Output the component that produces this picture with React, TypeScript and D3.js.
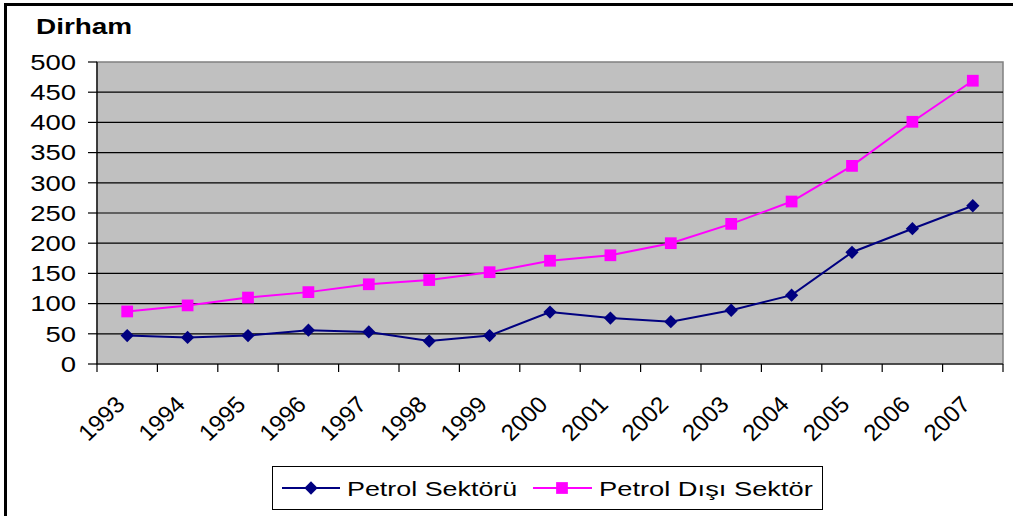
import * as d3 from "d3";

const years = ["1993", "1994", "1995", "1996", "1997", "1998", "1999", "2000", "2001", "2002", "2003", "2004", "2005", "2006", "2007"];
const petrolSektoru = [47, 44, 47, 56, 53, 38, 47, 86, 76, 70, 89, 114, 185, 224, 262];
const petrolDisiSektor = [87, 97, 110, 119, 132, 139, 152, 171, 180, 200, 232, 269, 328, 401, 469];
const yTicks = [0, 50, 100, 150, 200, 250, 300, 350, 400, 450, 500];
const seriesNames = ["Petrol Sektörü", "Petrol Dışı Sektör"];

const W = 1013;
const H = 516;
const left = 97;
const right = 1003;
const top = 62;
const bottom = 364;
const font = "Arial, 'Liberation Sans', sans-serif";
const sx = 1.25; // the picture is stretched sideways

const App = () => {
  const x = d3.scaleBand<string>().domain(years).range([left, right]);
  const y = d3.scaleLinear().domain([0, 500]).range([bottom, top]);
  const cx = (d: string) => (x(d) ?? 0) + x.bandwidth() / 2;

  const line = d3
    .line<number>()
    .x((_, i) => cx(years[i]))
    .y((d) => y(d));

  const diamond = d3.symbol(d3.symbolSquare, 88)()!;
  const square = d3.symbol(d3.symbolSquare, 138)()!;

  const boundaries = years.map((d) => x(d) ?? 0).concat([right]);

  return (
    <svg width={W} height={H} style={{ position: "absolute", left: 0, top: 0, background: "#fff" }}>
      {/* outer frame */}
      <rect x={5.5} y={4.5} width={W + 20} height={H + 20} fill="none" stroke="#000" strokeWidth={3} />

      {/* title */}
      <text transform={`translate(36,33.5) scale(1.27,1)`} fontFamily={font} fontWeight="bold" fontSize={22} fill="#000">
        Dirham
      </text>

      {/* plot area */}
      <rect x={left} y={top} width={right - left} height={bottom - top} fill="#c0c0c0" stroke="#808080" strokeWidth={1.5} />

      {/* grid lines */}
      {yTicks.slice(1, -1).map((t) => (
        <line key={t} x1={left} x2={right} y1={y(t)} y2={y(t)} stroke="#000" strokeWidth={1.2} />
      ))}

      {/* y axis */}
      <line x1={left} x2={left} y1={top} y2={bottom} stroke="#000" strokeWidth={1.2} />
      {yTicks.map((t) => (
        <g key={t}>
          <line x1={left - 9} x2={left} y1={y(t)} y2={y(t)} stroke="#000" strokeWidth={1.2} />
          <text
            transform={`translate(76,${y(t) + 7.8}) scale(${sx},1)`}
            textAnchor="end"
            fontFamily={font}
            fontSize={22}
            fill="#000"
          >
            {t}
          </text>
        </g>
      ))}

      {/* x axis */}
      <line x1={left} x2={right} y1={bottom} y2={bottom} stroke="#000" strokeWidth={1.2} />
      {boundaries.map((b, i) => (
        <line key={i} x1={b} x2={b} y1={bottom} y2={bottom + 8} stroke="#000" strokeWidth={1.2} />
      ))}
      {years.map((d) => (
        <text
          key={d}
          transform={`translate(${cx(d) - 1},406) scale(1.05,1) rotate(-45)`}
          textAnchor="end"
          fontFamily={font}
          fontSize={23}
          fill="#000"
        >
          {d}
        </text>
      ))}

      {/* series */}
      <path d={line(petrolDisiSektor) ?? ""} fill="none" stroke="#ff00ff" strokeWidth={2} />
      <path d={line(petrolSektoru) ?? ""} fill="none" stroke="#000080" strokeWidth={2} />
      {petrolDisiSektor.map((v, i) => (
        <path key={i} d={square} transform={`translate(${cx(years[i])},${y(v)})`} fill="#ff00ff" />
      ))}
      {petrolSektoru.map((v, i) => (
        <path key={i} d={diamond} transform={`translate(${cx(years[i])},${y(v)}) rotate(45)`} fill="#000080" />
      ))}

      {/* legend */}
      <rect x={272.5} y={466.5} width={550} height={43} fill="#fff" stroke="#000" strokeWidth={1} />
      <line x1={282} x2={340} y1={488} y2={488} stroke="#000080" strokeWidth={2} />
      <path d={diamond} transform="translate(311,488) rotate(45)" fill="#000080" />
      <text transform={`translate(347,495.5) scale(1.28,1)`} fontFamily={font} fontSize={21} fill="#000">
        {seriesNames[0]}
      </text>
      <line x1={533} x2={592} y1={488} y2={488} stroke="#ff00ff" strokeWidth={2} />
      <path d={square} transform="translate(562,488)" fill="#ff00ff" />
      <text transform={`translate(599,495.5) scale(1.3,1)`} fontFamily={font} fontSize={21} fill="#000">
        {seriesNames[1]}
      </text>
    </svg>
  );
};

export default App;
